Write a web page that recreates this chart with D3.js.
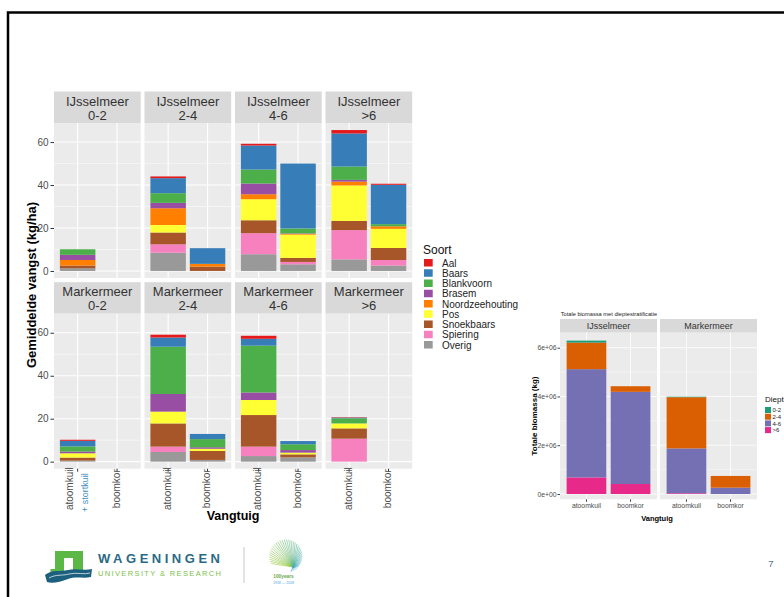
<!DOCTYPE html>
<html>
<head>
<meta charset="utf-8">
<script src="https://cdn.jsdelivr.net/npm/d3@7"></script>
<style>
  body { margin: 0; background: #fff; }
  svg { display: block; font-family: "Liberation Sans", Arial, sans-serif; }
</style>
</head>
<body>
<script>
// ---- data, left chart: mean catch (kg/ha) per species ----
const lakes = ["IJsselmeer", "Markermeer"];
const depths = ["0-2", "2-4", "4-6", ">6"];
const gears = ["atoomkuil", "boomkor"];
const species = ["Aal", "Baars", "Blankvoorn", "Brasem", "Noordzeehouting", "Pos", "Snoekbaars", "Spiering", "Overig"];
const speciesColours = ["#e41a1c", "#377eb8", "#4daf4a", "#984ea3", "#ff7f00", "#ffff33", "#a65628", "#f781bf", "#999999"];

// one value per lake x depth x gear:
// IJ 0-2 atoom, IJ 0-2 boom, IJ 2-4 atoom, IJ 2-4 boom, ... MM >6 atoom, MM >6 boom
const aal =             [0,   0, 0.8, 0,   0.8,  0,    1.6,  0.5,  0.5, 0, 1.3,  0,   1.4,  0,   0.2,  0];
const baars =           [0,   0, 7.0, 7.3, 11.2, 30.2, 15.4, 18.3, 2.6, 0, 4.3,  2.4, 3.2,  1.5, 0.3,  0];
const blankvoorn =      [2.6, 0, 4.5, 0,   6.5,  2.3,  6.2,  1.0,  2.4, 0, 22.0, 3.8, 21.8, 2.7, 2.4,  0];
const brasem =          [2.4, 0, 2.5, 0,   5.0,  0.2,  0.8,  0,    0.8, 0, 8.2,  0.7, 3.5,  1.2, 0,    0];
const noordzeehouting = [2.6, 0, 7.8, 1.3, 2.3,  0.4,  1.8,  1.2,  0,   0, 0,    0,   0,    0,   0,    0];
const pos =             [0,   0, 3.5, 0,   9.8,  10.8, 16.5, 8.9,  2.0, 0, 5.5,  1.0, 7.0,  0.8, 2.3,  0];
const snoekbaars =      [1.3, 0, 5.5, 2.0, 6.0,  1.9,  4.3,  5.6,  1.4, 0, 10.8, 4.2, 14.7, 1.4, 4.8,  0];
const spiering =        [0,   0, 3.9, 0,   9.8,  1.1,  13.6, 2.6,  0,   0, 2.5,  0,   4.4,  0,   10.7, 0];
const overig =          [1.2, 0, 8.5, 0,   7.8,  3.1,  5.4,  2.5,  0.5, 0, 4.5,  0.8, 2.6,  2.0, 0,    0];
const catchTicks = [0, 20, 40, 60];

// ---- data, right chart: total biomass (kg) per depth class ----
// order: IJ atoomkuil, IJ boomkor, MM atoomkuil, MM boomkor
const depthClasses = ["0-2", "2-4", "4-6", ">6"];
const depthColours = ["#1b9e77", "#d95f02", "#7570b3", "#e7298a"];
const bio02 = [0.08e6, 0,      0.02e6, 0];
const bio24 = [1.09e6, 0.23e6, 2.10e6, 0.48e6];
const bio46 = [4.44e6, 3.78e6, 1.84e6, 0.26e6];
const bio6  = [0.68e6, 0.41e6, 0.03e6, 0];
const bioTicks = [0, 2e6, 4e6, 6e6];

const W = 784, H = 597;
const svg = d3.select("body").append("svg").attr("width", W).attr("height", H);
svg.append("rect").attr("width", W).attr("height", H).attr("fill", "#fff");

// slide frame
svg.append("path")
  .attr("d", `M8,${H} V12.5 H${W}`)
  .attr("fill", "none").attr("stroke", "#000").attr("stroke-width", 2.5);

// ================= left chart =================
const catchBySpecies = [aal, baars, blankvoorn, brasem, noordzeehouting, pos, snoekbaars, spiering, overig];
const rows = [];
lakes.forEach(lake => depths.forEach(depth => gears.forEach(gear => {
  const i = rows.length;
  const row = { lake, depth, gear };
  species.forEach((s, k) => row[s] = catchBySpecies[k][i]);
  rows.push(row);
})));

// ggplot puts the first level on top, so stack from the last one
const stacked = d3.stack().keys(species.slice().reverse())(rows);
const colour = d3.scaleOrdinal().domain(species).range(speciesColours);

const L = { x0: 54, pw: 86.7, gap: 3.8, y0: 91.5, sh: 31.5, bh: 155, rgap: 4.2 };
const yL = d3.scaleLinear().domain([-3.28, 68.88]).range([L.bh, 0]);
const xL = d3.scaleBand().domain(gears).range([0, L.pw]).paddingInner(0.1).paddingOuter(0.15);

lakes.forEach((lake, r) => {
  depths.forEach((depth, c) => {
    const px = L.x0 + c * (L.pw + L.gap);
    const py = L.y0 + r * (L.sh + L.bh + L.rgap);
    const g = svg.append("g").attr("transform", `translate(${px},${py})`);

    // strip
    g.append("rect").attr("width", L.pw).attr("height", L.sh).attr("fill", "#d9d9d9");
    g.append("text").attr("x", L.pw / 2).attr("y", 14).attr("text-anchor", "middle")
      .attr("font-size", 13).attr("fill", "#333").text(lake);
    g.append("text").attr("x", L.pw / 2).attr("y", 28.3).attr("text-anchor", "middle")
      .attr("font-size", 13).attr("fill", "#333").text(depth);

    const body = g.append("g").attr("transform", `translate(0,${L.sh})`);
    body.append("rect").attr("width", L.pw).attr("height", L.bh).attr("fill", "#ebebeb");

    body.selectAll(".minor").data([10, 30, 50]).join("line")
      .attr("x1", 0).attr("x2", L.pw).attr("y1", d => yL(d)).attr("y2", d => yL(d))
      .attr("stroke", "#fff").attr("stroke-width", 0.5);
    body.selectAll(".major").data(catchTicks).join("line")
      .attr("x1", 0).attr("x2", L.pw).attr("y1", d => yL(d)).attr("y2", d => yL(d))
      .attr("stroke", "#fff").attr("stroke-width", 1.1);
    body.selectAll(".vgrid").data(gears).join("line")
      .attr("x1", d => xL(d) + xL.bandwidth() / 2).attr("x2", d => xL(d) + xL.bandwidth() / 2)
      .attr("y1", 0).attr("y2", L.bh)
      .attr("stroke", "#fff").attr("stroke-width", 1.1);

    // bars
    stacked.forEach(series => {
      series.forEach(seg => {
        const d = seg.data;
        if (d.lake !== lake || d.depth !== depth || seg[1] <= seg[0]) return;
        body.append("rect")
          .attr("x", xL(d.gear))
          .attr("width", xL.bandwidth())
          .attr("y", yL(seg[1]))
          .attr("height", yL(seg[0]) - yL(seg[1]))
          .attr("fill", colour(series.key));
      });
    });

    // y axis on the first column
    if (c === 0) {
      const ax = body.append("g")
        .call(d3.axisLeft(yL).tickValues(catchTicks).tickSize(3.5).tickPadding(2));
      ax.select(".domain").remove();
      ax.selectAll("line").attr("stroke", "#333");
      ax.selectAll("text").attr("font-size", 10).attr("fill", "#4d4d4d").attr("font-family", null);
    }

    // x axis on the bottom row
    if (r === lakes.length - 1) {
      const ax = body.append("g").attr("transform", `translate(0,${L.bh})`)
        .call(d3.axisBottom(xL).tickSize(3).tickFormat(""));
      ax.select(".domain").remove();
      ax.selectAll("line").attr("stroke", "#333");
      gears.forEach(gear => {
        const cx = xL(gear) + xL.bandwidth() / 2;
        if (c === 0 && gear === "atoomkuil") {
          body.append("text").attr("transform", `translate(${cx - 4.5},${L.bh + 20}) rotate(-90)`)
            .attr("text-anchor", "middle").attr("font-size", 10).attr("fill", "#4d4d4d").text(gear);
          body.append("text").attr("transform", `translate(${cx + 10},${L.bh + 24}) rotate(-90)`)
            .attr("text-anchor", "middle").attr("font-size", 9).attr("fill", "#3f8fc4").text("+ stortkuil");
        } else {
          body.append("text").attr("transform", `translate(${cx + 2.5},${L.bh + 20}) rotate(-90)`)
            .attr("text-anchor", "middle").attr("font-size", 10).attr("fill", "#4d4d4d").text(gear);
        }
      });
    }
  });
});

// axis titles
svg.append("text").attr("transform", "translate(35.5,285) rotate(-90)")
  .attr("text-anchor", "middle").attr("font-size", 13).attr("font-weight", "bold")
  .text("Gemiddelde vangst (kg/ha)");
svg.append("text").attr("x", L.x0 + (4 * L.pw + 3 * L.gap) / 2).attr("y", 520)
  .attr("text-anchor", "middle").attr("font-size", 12.5).attr("font-weight", "bold")
  .text("Vangtuig");

// legend
const lg = svg.append("g").attr("transform", "translate(423,0)");
lg.append("text").attr("x", 0).attr("y", 254).attr("font-size", 12).attr("fill", "#111").text("Soort");
species.forEach((s, i) => {
  lg.append("rect").attr("x", 1).attr("y", 259 + i * 10.25).attr("width", 8.7).attr("height", 7.5)
    .attr("fill", colour(s));
  lg.append("text").attr("x", 19).attr("y", 266.5 + i * 10.25).attr("font-size", 10)
    .attr("fill", "#222").text(s);
});

// ================= right chart =================
const bioByDepth = [bio02, bio24, bio46, bio6];
const rowsR = [];
lakes.forEach(lake => gears.forEach(gear => {
  const i = rowsR.length;
  const row = { lake, gear };
  depthClasses.forEach((dc, k) => row[dc] = bioByDepth[k][i]);
  rowsR.push(row);
}));
const stackedR = d3.stack().keys(depthClasses.slice().reverse())(rowsR);
const colourR = d3.scaleOrdinal().domain(depthClasses).range(depthColours);

const R = { x0: 560, pw: 97, gap: 3, sy: 319, sh: 13.7, bh: 166.6 };
const yR = d3.scaleLinear().domain([0, 6e6]).range([161.3, 15]);
const xR = d3.scaleBand().domain(gears).range([0, R.pw]).paddingInner(0.1).paddingOuter(0.15);
const bioFormat = d => d === 0 ? "0e+00" : (d / 1e6) + "e+06";

svg.append("text").attr("x", 560.7).attr("y", 316).attr("font-size", 5.7).attr("fill", "#222")
  .text("Totale biomassa met dieptestratificatie");

lakes.forEach((lake, c) => {
  const px = R.x0 + c * (R.pw + R.gap);
  const g = svg.append("g").attr("transform", `translate(${px},${R.sy})`);
  g.append("rect").attr("width", R.pw).attr("height", R.sh).attr("fill", "#d9d9d9");
  g.append("text").attr("x", R.pw / 2).attr("y", 10.3).attr("text-anchor", "middle")
    .attr("font-size", 9).attr("fill", "#333").text(lake);

  const body = g.append("g").attr("transform", `translate(0,${R.sh})`);
  body.append("rect").attr("width", R.pw).attr("height", R.bh).attr("fill", "#ebebeb");
  body.selectAll(".minor").data([1e6, 3e6, 5e6]).join("line")
    .attr("x1", 0).attr("x2", R.pw).attr("y1", d => yR(d)).attr("y2", d => yR(d))
    .attr("stroke", "#fff").attr("stroke-width", 0.4);
  body.selectAll(".major").data(bioTicks).join("line")
    .attr("x1", 0).attr("x2", R.pw).attr("y1", d => yR(d)).attr("y2", d => yR(d))
    .attr("stroke", "#fff").attr("stroke-width", 0.8);
  body.selectAll(".vgrid").data(gears).join("line")
    .attr("x1", d => xR(d) + xR.bandwidth() / 2).attr("x2", d => xR(d) + xR.bandwidth() / 2)
    .attr("y1", 0).attr("y2", R.bh)
    .attr("stroke", "#fff").attr("stroke-width", 0.8);

  stackedR.forEach(series => {
    series.forEach(seg => {
      const d = seg.data;
      if (d.lake !== lake || seg[1] <= seg[0]) return;
      body.append("rect")
        .attr("x", xR(d.gear)).attr("width", xR.bandwidth())
        .attr("y", yR(seg[1])).attr("height", yR(seg[0]) - yR(seg[1]))
        .attr("fill", colourR(series.key));
    });
  });

  if (c === 0) {
    const ax = body.append("g")
      .call(d3.axisLeft(yR).tickValues(bioTicks).tickFormat(bioFormat).tickSize(2.5).tickPadding(1));
    ax.select(".domain").remove();
    ax.selectAll("line").attr("stroke", "#444");
    ax.selectAll("text").attr("font-size", 6.8).attr("fill", "#4d4d4d").attr("font-family", null);
  }
  const ax = body.append("g").attr("transform", `translate(0,${R.bh})`)
    .call(d3.axisBottom(xR).tickSize(2.5).tickPadding(1.5));
  ax.select(".domain").remove();
  ax.selectAll("line").attr("stroke", "#444");
  ax.selectAll("text").attr("font-size", 6.8).attr("fill", "#4d4d4d").attr("font-family", null);
});

svg.append("text").attr("transform", "translate(537,416) rotate(-90)")
  .attr("text-anchor", "middle").attr("font-size", 8).attr("font-weight", "bold")
  .text("Totale biomassa (kg)");
svg.append("text").attr("x", 657).attr("y", 521).attr("text-anchor", "middle")
  .attr("font-size", 7.5).attr("font-weight", "bold").text("Vangtuig");

// legend sits at the slide edge and is cut off there, as on the slide
const lgR = svg.append("g").attr("transform", "translate(765,0)");
lgR.append("text").attr("x", 0).attr("y", 402).attr("font-size", 8).attr("fill", "#111").text("Diepte");
depthClasses.forEach((dc, i) => {
  lgR.append("rect").attr("x", 0).attr("y", 407 + i * 6.7).attr("width", 6).attr("height", 6)
    .attr("fill", colourR(dc));
  lgR.append("text").attr("x", 7.5).attr("y", 412.2 + i * 6.7).attr("font-size", 6)
    .attr("fill", "#222").text(dc);
});

// ================= footer =================
const logo = svg.append("g");
logo.append("path")
  .attr("d", "M55,551 H83 V573 H55 Z M64,558 V573 H73 V558 Z M50.5,569 H55 V573 H50.5 Z")
  .attr("fill", "#5cb846").attr("fill-rule", "evenodd");
logo.append("path")
  .attr("d", "M45,575 C52,569 60,572 68,570 C76,568 84,571 92,569 L91,577 C84,579 76,576 68,579 C60,582 52,584 47,582 Z")
  .attr("fill", "#1d5f7e");
logo.append("path")
  .attr("d", "M49,578 C56,574 62,576 69,574 C77,572 84,575 90,573")
  .attr("fill", "none").attr("stroke", "#fff").attr("stroke-width", 0.7);
logo.append("text").attr("x", 98).attr("y", 563).attr("font-size", 13).attr("font-weight", "bold")
  .attr("fill", "#2b6a86").attr("textLength", 122).attr("lengthAdjust", "spacing").text("WAGENINGEN");
logo.append("text").attr("x", 98).attr("y", 575.5).attr("font-size", 7.5)
  .attr("fill", "#7cbf4b").attr("textLength", 123).attr("lengthAdjust", "spacing").text("UNIVERSITY & RESEARCH");
svg.append("line").attr("x1", 244).attr("x2", 244).attr("y1", 547).attr("y2", 583)
  .attr("stroke", "#c8c8c8").attr("stroke-width", 1);

// 100 years emblem: fan of lines
const emblem = svg.append("g");
const fanColour = d3.interpolateRgb("#9ccc3c", "#2a9fd8");
d3.range(36).forEach(i => {
  const a = -Math.PI * 0.15 + i / 35 * Math.PI * 1.55;
  emblem.append("line")
    .attr("x1", 293).attr("y1", 567)
    .attr("x2", 285.8 + 16.5 * Math.cos(Math.PI + a)).attr("y2", 556 + 16.5 * Math.sin(Math.PI + a))
    .attr("stroke", fanColour(i / 35)).attr("stroke-width", 0.6);
});
emblem.append("text").attr("x", 283.5).attr("y", 578).attr("text-anchor", "middle")
  .attr("font-size", 4.8).attr("font-weight", "bold").attr("fill", "#6aa84f").text("100years");
emblem.append("text").attr("x", 283.5).attr("y", 583.5).attr("text-anchor", "middle")
  .attr("font-size", 3.5).attr("fill", "#4aa3d8").text("1918 — 2018");

svg.append("text").attr("x", 771).attr("y", 567).attr("text-anchor", "middle")
  .attr("font-size", 9.5).attr("fill", "#4f7390").text("7");
</script>
</body>
</html>
